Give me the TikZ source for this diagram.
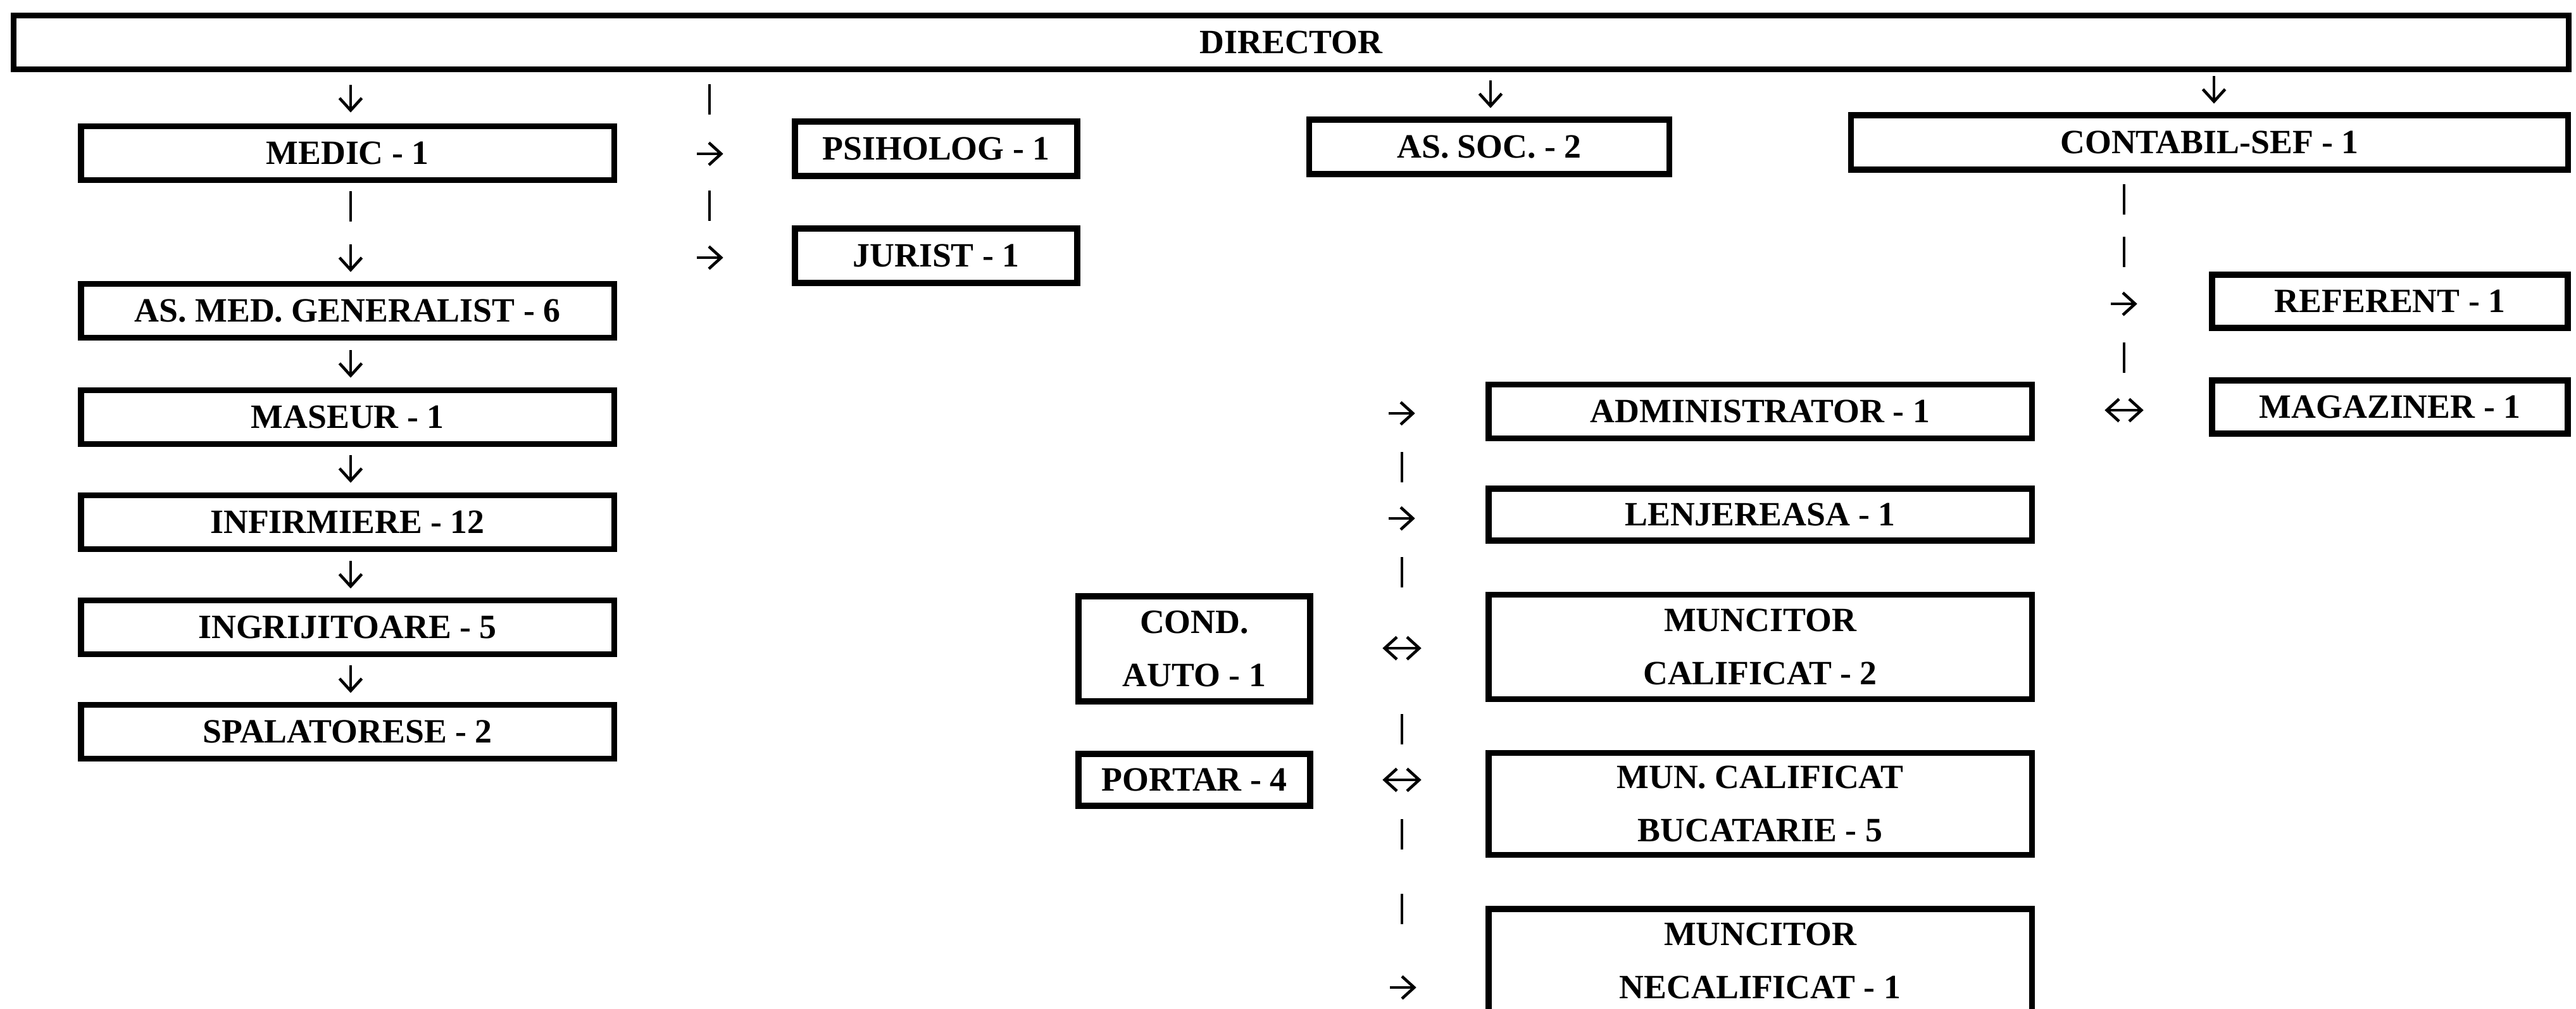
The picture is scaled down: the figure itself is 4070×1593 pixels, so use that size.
\documentclass[tikz,border=0pt]{standalone}
\usepackage{fontspec}
\setmainfont{Liberation Serif}
\usetikzlibrary{arrows.meta}

\tikzset{
  post/.style={draw, line width=2.7pt, inner sep=0pt, align=center,
    font=\bfseries\fontsize{15.3pt}{23.8pt}\selectfont},
  leftpost/.style={post, minimum width=8.42cm, minimum height=0.85cm},
  midpost/.style={post, minimum width=8.58cm},
  vtick/.style={inner sep=0pt, minimum width=0pt, minimum height=0.42cm},
  htick/.style={inner sep=0pt, minimum height=0pt, minimum width=0.40cm},
  wtick/.style={inner sep=0pt, minimum height=0pt, minimum width=0.60cm},
  vbar/.style={inner sep=0pt, minimum width=0pt, minimum height=0.46cm},
  link/.style={line width=1.3pt, -{Straight Barb[length=5.5pt,width=10pt]}},
  twoway/.style={line width=1.3pt, {Straight Barb[length=5.5pt,width=10pt]}-{Straight Barb[length=5.5pt,width=10pt]}},
  stroke/.style={line width=1.2pt},
}

\begin{document}
\begin{tikzpicture}[x=0.01cm, y=-0.01cm]
  \useasboundingbox (0,0) rectangle (4070,1593);

  \node[post, minimum width=40.35cm, minimum height=0.85cm] (director) at (2040,67) {DIRECTOR};

  % medical staff
  \node[leftpost] (medic) at (549,242) {MEDIC - 1};
  \node[leftpost] (asmed) at (549,491) {AS. MED. GENERALIST - 6};
  \node[leftpost] (maseur) at (549,659) {MASEUR - 1};
  \node[leftpost] (infirm) at (549,825) {INFIRMIERE - 12};
  \node[leftpost] (ingrij) at (549,991) {INGRIJITOARE - 5};
  \node[leftpost] (spalat) at (549,1156) {SPALATORESE - 2};

  \node[post, minimum width=4.46cm, minimum height=0.86cm] (psiholog) at (1479,235) {PSIHOLOG - 1};
  \node[post, minimum width=4.46cm, minimum height=0.86cm] (jurist) at (1479,404) {JURIST - 1};
  \node[post, minimum width=5.69cm, minimum height=0.86cm] (assoc) at (2353,232) {AS. SOC. - 2};

  % accounting
  \node[post, minimum width=11.32cm, minimum height=0.86cm] (contabil) at (3491,225) {CONTABIL-SEF - 1};
  \node[post, minimum width=5.62cm, minimum height=0.84cm] (referent) at (3776,476) {REFERENT - 1};
  \node[post, minimum width=5.62cm, minimum height=0.84cm] (magaziner) at (3776,643) {MAGAZINER - 1};

  % administration
  \node[midpost, minimum height=0.85cm] (admin) at (2781,650) {ADMINISTRATOR - 1};
  \node[midpost, minimum height=0.82cm] (lenjer) at (2781,813) {LENJEREASA - 1};
  \node[midpost, minimum height=1.65cm] (calif) at (2781,1022) {MUNCITOR\\CALIFICAT - 2};
  \node[midpost, minimum height=1.61cm] (bucat) at (2781,1270) {MUN. CALIFICAT\\BUCATARIE - 5};
  \node[midpost, minimum height=1.64cm] (necalif) at (2781,1518) {MUNCITOR\\NECALIFICAT - 1};
  \node[post, minimum width=3.66cm, minimum height=1.66cm] (cond) at (1887,1025) {COND.\\AUTO - 1};
  \node[post, minimum width=3.66cm, minimum height=0.82cm] (portar) at (1887,1232) {PORTAR - 4};

  % arrow and bar marks
  \foreach \n/\x/\y in {a/554/156, b/554/408, c/554/575, d/554/741, e/554/908,
                        f/554/1073, g/2355/149, h/3498/142}
    {\node[vtick] (down\n) at (\x,\y) {};
     \draw[link] (down\n.north) -- (down\n.south);}
  \foreach \n/\x/\y in {a/1121/157, b/554/326, c/1121/325, d/3356/315, e/3356/398,
                        f/3356/565, g/2215/738, h/2215/904, i/2215/1152,
                        j/2215/1318, k/2215/1436}
    {\node[vbar] (bar\n) at (\x,\y) {};
     \draw[stroke] (bar\n.north) -- (bar\n.south);}
  \foreach \n/\x/\y in {a/1122/243, b/1122/407, c/3356/480, d/2215/653,
                        e/2215/819, f/2217/1560}
    {\node[htick] (right\n) at (\x,\y) {};
     \draw[link] (right\n.west) -- (right\n.east);}
  \foreach \n/\x/\y in {a/3356/648, b/2215/1024, c/2215/1232}
    {\node[wtick] (both\n) at (\x,\y) {};
     \draw[twoway] (both\n.west) -- (both\n.east);}
\end{tikzpicture}
\end{document}
